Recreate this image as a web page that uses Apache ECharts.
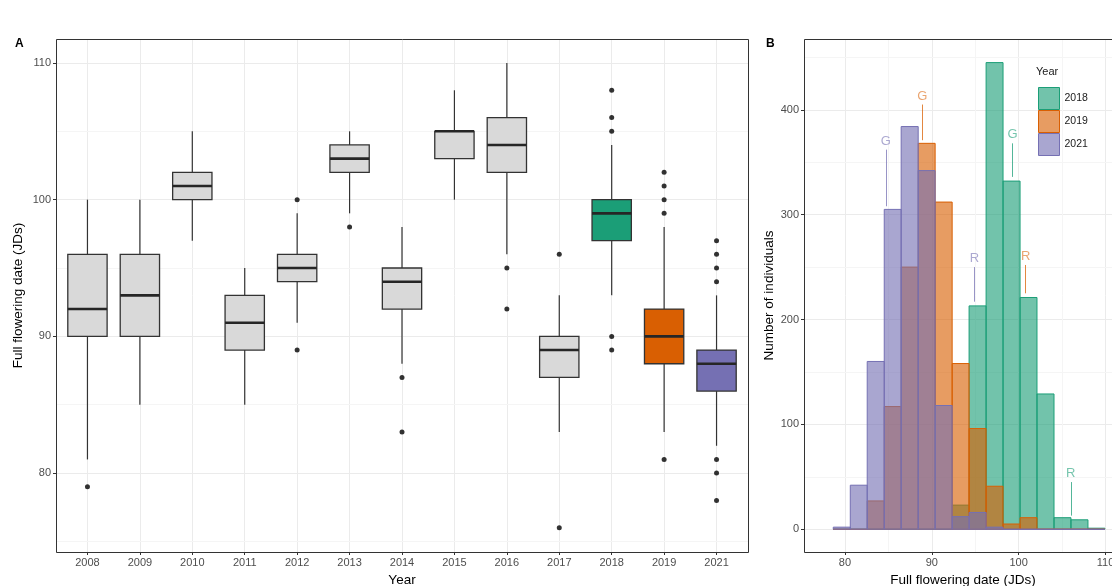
<!DOCTYPE html>
<html><head><meta charset="utf-8">
<script src="https://cdn.jsdelivr.net/npm/echarts@6/dist/echarts.min.js"></script>
<style>html,body{margin:0;padding:0;background:#fff}#c{width:1112px;height:586px}</style>
</head><body><div id="c"></div>
<script>
// ---------- Panel A data (boxplots by year) ----------
const years = ['2008','2009','2010','2011','2012','2013','2014','2015','2016','2017','2018','2019','2021'];
const whiskerLow  = [81, 85, 97, 85, 91, 99, 88, 100, 96, 83, 93, 83, 82];
const q1          = [90, 90,100, 89, 94,102, 92, 103,102, 87, 97, 88, 86];
const median      = [92, 93,101, 91, 95,103, 94, 105,104, 89, 99, 90, 88];
const q3          = [96, 96,102, 93, 96,104, 95, 105,106, 90,100, 92, 89];
const whiskerHigh = [100,100,105, 95, 99,105, 98, 108,110, 93,104, 98, 93];
const outlierYears  = ['2008','2012','2012','2013','2014','2014','2016','2016','2017','2017','2018','2018','2018','2018','2018','2019','2019','2019','2019','2019','2021','2021','2021','2021','2021','2021','2021'];
const outlierValues = [79, 100, 89, 98, 87, 83, 95, 92, 96, 76, 108, 106, 105, 90, 89, 102, 101, 100, 99, 81, 97, 96, 95, 94, 81, 80, 78];
const minorTicksA = [75, 85, 95, 105];

// ---------- Panel B data (histograms) ----------
const histYears = ['2018','2019','2021'];
const binEdges = [78.65, 80.61, 82.56, 84.52, 86.47, 88.43, 90.38, 92.34, 94.29, 96.25, 98.2, 100.16, 102.11, 104.07, 106.02, 107.98, 109.93];
const count2018 = [0, 0, 0, 0, 0, 0, 0, 23, 213, 445, 332, 221, 129, 11, 9, 1];
const count2019 = [0, 0, 27, 117, 250, 368, 312, 158, 96, 41, 5, 11, 0, 0, 0, 0];
const count2021 = [2, 42, 160, 305, 384, 342, 118, 12, 16, 2, 0, 0, 0, 0, 0, 0];
const annotLabels2018 = ['G','R'], annotX2018 = [99.3, 106.0], annotFrom2018 = [368, 45], annotTo2018 = [336, 13];
const annotLabels2019 = ['G','R'], annotX2019 = [88.9, 100.8], annotFrom2019 = [405, 252], annotTo2019 = [371, 225];
const annotLabels2021 = ['G','R'], annotX2021 = [84.7, 94.9], annotFrom2021 = [362, 250], annotTo2021 = [308, 217];
const minorTicksBy = [50, 150, 250, 350, 450];
const minorTicksBx = [85, 95, 105];

// ---------- styles ----------
const FONT = '"Liberation Sans", Arial, sans-serif';
const boxFill = {'2018':'#1b9e77','2019':'#d95f02','2021':'#7570b3'};
const grayFill = '#d9d9d9';
const histStroke = {'2018':'#1b9e77','2019':'#d95f02','2021':'#7570b3'};
const histFill = {'2018':'rgba(27,158,119,0.62)','2019':'rgba(217,95,2,0.62)','2021':'rgba(117,112,179,0.62)'};
const letterColor = {'2018':'rgba(27,158,119,0.8)','2019':'rgba(217,95,2,0.75)','2021':'rgba(117,112,179,0.8)'};
const gridColor = '#ebebeb', minorColor = '#f5f5f5', tickColor = '#333', labelColor = '#4d4d4d';

const chart = echarts.init(document.getElementById('c'), null, {renderer:'canvas'});

const boxData = years.map((y, i) => [i + 1, whiskerLow[i], q1[i], median[i], q3[i], whiskerHigh[i]]);
const outlierData = outlierYears.map((y, i) => [years.indexOf(y) + 1, outlierValues[i]]);
const counts = {'2018':count2018,'2019':count2019,'2021':count2021};
const annots = {
  '2018':{l:annotLabels2018,x:annotX2018,f:annotFrom2018,t:annotTo2018},
  '2019':{l:annotLabels2019,x:annotX2019,f:annotFrom2019,t:annotTo2019},
  '2021':{l:annotLabels2021,x:annotX2021,f:annotFrom2021,t:annotTo2021}
};

function axisCommon(){
  return {
    axisLine:{show:false, onZero:false},
    axisTick:{show:true, length:3, lineStyle:{color:tickColor, width:1}},
    axisLabel:{color:labelColor, fontSize:11, fontFamily:FONT, margin:5, showMinLabel:false, showMaxLabel:false},
    splitLine:{show:true, lineStyle:{color:gridColor, width:1}},
    nameLocation:'middle',
    nameTextStyle:{color:'#000', fontSize:13.5, fontFamily:FONT}
  };
}

const histSeries = histYears.map(yr => {
  const c = counts[yr];
  const data = c.map((v, i) => [binEdges[i], binEdges[i+1], v]);
  const a = annots[yr];
  return {
    type:'custom', name:yr, xAxisIndex:1, yAxisIndex:1, z:2,
    itemStyle:{color:histFill[yr], borderColor:histStroke[yr]},
    encode:{x:[0,1], y:2},
    data:data,
    renderItem:function(params, api){
      const p0 = api.coord([api.value(0), 0]);
      const p1 = api.coord([api.value(1), api.value(2)]);
      return {type:'rect', shape:{x:p0[0], y:p1[1], width:p1[0]-p0[0], height:p0[1]-p1[1]},
        style:{fill:histFill[yr], stroke:histStroke[yr], lineWidth:1}};
    },
    markLine:{
      silent:true, z:6, animation:false,
      symbol:['none','arrow'], symbolSize:[0,6],
      lineStyle:{color:histStroke[yr], width:1, type:'solid', opacity:0.75},
      label:{show:true, position:'start', formatter:'{b}', color:letterColor[yr], fontSize:13, fontFamily:FONT, distance:2},
      data:a.l.map((lab, i) => [{name:lab, coord:[a.x[i], a.f[i]]}, {coord:[a.x[i], a.t[i]]}])
    }
  };
});

const option = {
  animation:false,
  textStyle:{fontFamily:FONT},
  title:{text:'Year', left:1036, top:66, padding:0, textStyle:{fontSize:11, fontWeight:'normal', color:'#1a1a1a', fontFamily:FONT}},
  legend:{
    orient:'vertical', left:1038, top:87, itemWidth:21, itemHeight:22, itemGap:0, padding:0,
    icon:'rect', textStyle:{fontSize:10.5, color:'#1a1a1a', fontFamily:FONT},
    data:histYears.map(yr => ({name:yr, itemStyle:{color:histFill[yr], borderColor:histStroke[yr], borderWidth:1}}))
  },
  grid:[
    {left:56, top:39, width:692, height:513, containLabel:false, outerBoundsMode:'none'},
    {left:804, top:39, width:318, height:513, containLabel:false, outerBoundsMode:'none'}
  ],
  xAxis:[
    Object.assign(axisCommon(), {
      type:'value', gridIndex:0, min:0.4, max:13.6, splitNumber:13,
      name:'Year', nameGap:19,
      axisLabel:Object.assign(axisCommon().axisLabel, {formatter:function(v){return Number.isInteger(v) && years[v-1] ? years[v-1] : '';}})
    }),
    Object.assign(axisCommon(), {
      type:'value', gridIndex:1, min:75.28, max:111.9, splitNumber:4,
      name:'Full flowering date (JDs)', nameGap:20
    })
  ],
  yAxis:[
    Object.assign(axisCommon(), {
      type:'value', gridIndex:0, min:74.23, max:111.75, splitNumber:4,
      name:'Full flowering date (JDs)', nameGap:31, nameMoveOverlap:false
    }),
    Object.assign(axisCommon(), {
      type:'value', gridIndex:1, min:-21.7, max:467.5, splitNumber:5,
      name:'Number of individuals', nameGap:24
    })
  ],
  graphic:[
    {type:'rect', z:100, silent:true, shape:{x:56.5, y:39.5, width:692, height:513}, style:{fill:'none', stroke:'#333', lineWidth:1}},
    {type:'rect', z:100, silent:true, shape:{x:804.5, y:39.5, width:318, height:513}, style:{fill:'none', stroke:'#333', lineWidth:1}},
    {type:'text', left:15, top:38, style:{text:'A', font:'bold 12px '+FONT, fill:'#000'}},
    {type:'text', left:766, top:38, style:{text:'B', font:'bold 12px '+FONT, fill:'#000'}}
  ],
  series:[
    {
      type:'line', xAxisIndex:0, yAxisIndex:0, data:[], silent:true,
      markLine:{silent:true, z:1, symbol:'none', animation:false, label:{show:false},
        lineStyle:{color:minorColor, width:1, type:'solid'},
        data:minorTicksA.map(v => ({yAxis:v}))}
    },
    {
      type:'line', xAxisIndex:1, yAxisIndex:1, data:[], silent:true,
      markLine:{silent:true, z:1, symbol:'none', animation:false, label:{show:false},
        lineStyle:{color:minorColor, width:1, type:'solid'},
        data:minorTicksBy.map(v => ({yAxis:v})).concat(minorTicksBx.map(v => ({xAxis:v})))}
    },
    {
      type:'custom', xAxisIndex:0, yAxisIndex:0, z:2,
      encode:{x:0, y:[1,2,3,4,5]},
      data:boxData,
      renderItem:function(params, api){
        const x = api.value(0);
        const pLo = api.coord([x, api.value(1)]);
        const pQ1 = api.coord([x, api.value(2)]);
        const pMd = api.coord([x, api.value(3)]);
        const pQ3 = api.coord([x, api.value(4)]);
        const pHi = api.coord([x, api.value(5)]);
        const bw = api.size([1, 0])[0] * 0.75;
        const yr = years[params.dataIndex];
        const fill = boxFill[yr] || grayFill;
        const cx = pMd[0];
        return {type:'group', children:[
          {type:'line', shape:{x1:cx, y1:pLo[1], x2:cx, y2:pQ1[1]}, style:{stroke:'#333', lineWidth:1.2}},
          {type:'line', shape:{x1:cx, y1:pQ3[1], x2:cx, y2:pHi[1]}, style:{stroke:'#333', lineWidth:1.2}},
          {type:'rect', shape:{x:cx-bw/2, y:pQ3[1], width:bw, height:pQ1[1]-pQ3[1]}, style:{fill:fill, stroke:'#333', lineWidth:1.3}},
          {type:'line', shape:{x1:cx-bw/2, y1:pMd[1], x2:cx+bw/2, y2:pMd[1]}, style:{stroke:'#262626', lineWidth:2.6}}
        ]};
      }
    },
    {
      type:'scatter', xAxisIndex:0, yAxisIndex:0, z:3,
      data:outlierData, symbolSize:5, itemStyle:{color:'#000'}
    }
  ].concat(histSeries)
};
chart.setOption(option);
</script>
</body></html>
